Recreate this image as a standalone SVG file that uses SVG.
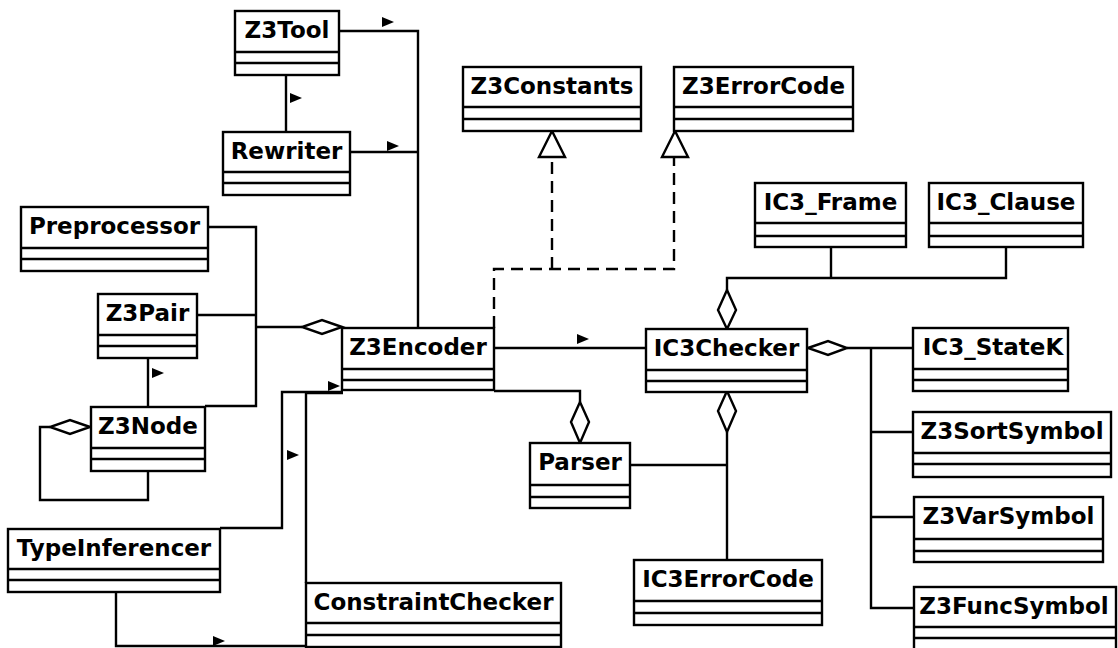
<svg xmlns="http://www.w3.org/2000/svg" width="1118" height="648" viewBox="0 0 1118 648">
<defs>
<style>
.box{fill:#fff;stroke:#000;stroke-width:2.4}
.div{stroke:#000;stroke-width:2.4}
.t{font-family:"DejaVu Sans","Liberation Sans",sans-serif;font-weight:bold;font-size:23px;text-anchor:middle;fill:#000}
.ln{fill:none;stroke:#000;stroke-width:2.4}
.dash{fill:none;stroke:#000;stroke-width:2.4;stroke-dasharray:12 7}
.dia{fill:#fff;stroke:#000;stroke-width:2.4}
.tri{fill:#fff;stroke:#000;stroke-width:2.4}
.arr{fill:#000;stroke:none}
</style>
</defs>
<rect width="1118" height="648" fill="#fff"/>
<g id="connectors">
<path class="ln" d="M339,31 H418 V328"/>
<path class="ln" d="M350,152 H418"/>
<path class="ln" d="M286,75 V132"/>
<path class="ln" d="M208,227 H256 V406 H205"/>
<path class="ln" d="M197,315 H256"/>
<path class="ln" d="M256,327 H302"/>
<polygon class="dia" points="342,327 322,320 302,327 322,334"/>
<path class="ln" d="M148,358 V407"/>
<path class="ln" d="M50,427 H40 V500 H148 V471"/>
<polygon class="dia" points="90,427 70,420 50,427 70,434"/>
<path class="ln" d="M220,528 H282 V392 H343"/>
<path class="ln" d="M116,592 V646 H306"/>
<path class="ln" d="M306,583 V393 H343"/>
<path class="ln" d="M494,391 H580 V402"/>
<polygon class="dia" points="580,402 589,422 580,443 571,422"/>
<path class="ln" d="M494,348 H646"/>
<path class="dash" d="M494,328 V269 H674 V157"/>
<path class="dash" d="M552,269 V157"/>
<polygon class="tri" points="552,131 539,157 565,157"/>
<polygon class="tri" points="675,131 662,157 688,157"/>
<path class="ln" d="M727,290 V278 H1006 V247"/>
<path class="ln" d="M831,278 V247"/>
<polygon class="dia" points="727,329 736,310 727,290 718,310"/>
<path class="ln" d="M847,348 H913"/>
<path class="ln" d="M871,348 V608 H914"/>
<path class="ln" d="M871,432 H913"/>
<path class="ln" d="M871,517 H914"/>
<polygon class="dia" points="808,348 828,341 847,348 828,355"/>
<path class="ln" d="M727,432 V560"/>
<path class="ln" d="M630,465 H727"/>
<polygon class="dia" points="727,391 736,411 727,432 718,411"/>
<polygon class="arr" points="382,17 394,22 382,27"/>
<polygon class="arr" points="290,93 302,98 290,103"/>
<polygon class="arr" points="387,141 399,146 387,151"/>
<polygon class="arr" points="152,368 164,373 152,378"/>
<polygon class="arr" points="577,334 589,339 577,344"/>
<polygon class="arr" points="287,450 299,455 287,460"/>
<polygon class="arr" points="328,381 340,386 328,391"/>
<polygon class="arr" points="213,636 225,641 213,646"/>
</g>
<g id="Z3Tool"><rect class="box" x="235" y="11" width="104" height="64"/><path class="div" d="M235,52 H339 M235,63 H339"/><text class="t" x="287" y="38">Z3Tool</text></g>
<g id="Rewriter"><rect class="box" x="223" y="132" width="127" height="63"/><path class="div" d="M223,172 H350 M223,183 H350"/><text class="t" x="286.5" y="159">Rewriter</text></g>
<g id="Preprocessor"><rect class="box" x="21" y="207" width="187" height="64"/><path class="div" d="M21,248 H208 M21,259 H208"/><text class="t" x="114.5" y="234">Preprocessor</text></g>
<g id="Z3Pair"><rect class="box" x="98" y="294" width="99" height="64"/><path class="div" d="M98,335 H197 M98,346 H197"/><text class="t" x="147.5" y="321">Z3Pair</text></g>
<g id="Z3Node"><rect class="box" x="91" y="407" width="114" height="64"/><path class="div" d="M91,448 H205 M91,459 H205"/><text class="t" x="148" y="434">Z3Node</text></g>
<g id="TypeInferencer"><rect class="box" x="8" y="529" width="212" height="63"/><path class="div" d="M8,569 H220 M8,580 H220"/><text class="t" x="114" y="556">TypeInferencer</text></g>
<g id="ConstraintChecker"><rect class="box" x="306" y="583" width="255" height="64"/><path class="div" d="M306,623 H561 M306,635 H561"/><text class="t" x="433.5" y="610">ConstraintChecker</text></g>
<g id="Z3Encoder"><rect class="box" x="342" y="328" width="152" height="62"/><path class="div" d="M342,369 H494 M342,380 H494"/><text class="t" x="418" y="355">Z3Encoder</text></g>
<g id="Parser"><rect class="box" x="530" y="443" width="100" height="65"/><path class="div" d="M530,485 H630 M530,497 H630"/><text class="t" x="580" y="470">Parser</text></g>
<g id="Z3Constants"><rect class="box" x="463" y="67" width="178" height="64"/><path class="div" d="M463,107 H641 M463,119 H641"/><text class="t" x="552" y="94">Z3Constants</text></g>
<g id="Z3ErrorCode"><rect class="box" x="674" y="67" width="179" height="64"/><path class="div" d="M674,107 H853 M674,119 H853"/><text class="t" x="763.5" y="94">Z3ErrorCode</text></g>
<g id="IC3_Frame"><rect class="box" x="755" y="183" width="151" height="64"/><path class="div" d="M755,223 H906 M755,236 H906"/><text class="t" x="830.5" y="210">IC3_Frame</text></g>
<g id="IC3_Clause"><rect class="box" x="929" y="183" width="154" height="64"/><path class="div" d="M929,223 H1083 M929,236 H1083"/><text class="t" x="1006" y="210">IC3_Clause</text></g>
<g id="IC3Checker"><rect class="box" x="646" y="329" width="161" height="63"/><path class="div" d="M646,370 H807 M646,381 H807"/><text class="t" x="726.5" y="356">IC3Checker</text></g>
<g id="IC3_StateK"><rect class="box" x="913" y="328" width="155" height="63"/><path class="div" d="M913,369 H1068 M913,380 H1068"/><text class="t" x="993" y="355">IC3_StateK</text></g>
<g id="Z3SortSymbol"><rect class="box" x="913" y="412" width="198" height="65"/><path class="div" d="M913,453 H1111 M913,464 H1111"/><text class="t" x="1012" y="439">Z3SortSymbol</text></g>
<g id="Z3VarSymbol"><rect class="box" x="914" y="497" width="189" height="65"/><path class="div" d="M914,539 H1103 M914,551 H1103"/><text class="t" x="1008.5" y="524">Z3VarSymbol</text></g>
<g id="Z3FuncSymbol"><rect class="box" x="914" y="587" width="202" height="65"/><path class="div" d="M914,627 H1116 M914,638 H1116"/><text class="t" x="1014" y="614">Z3FuncSymbol</text></g>
<g id="IC3ErrorCode"><rect class="box" x="634" y="560" width="188" height="65"/><path class="div" d="M634,601 H822 M634,613 H822"/><text class="t" x="728" y="587">IC3ErrorCode</text></g>
</svg>
